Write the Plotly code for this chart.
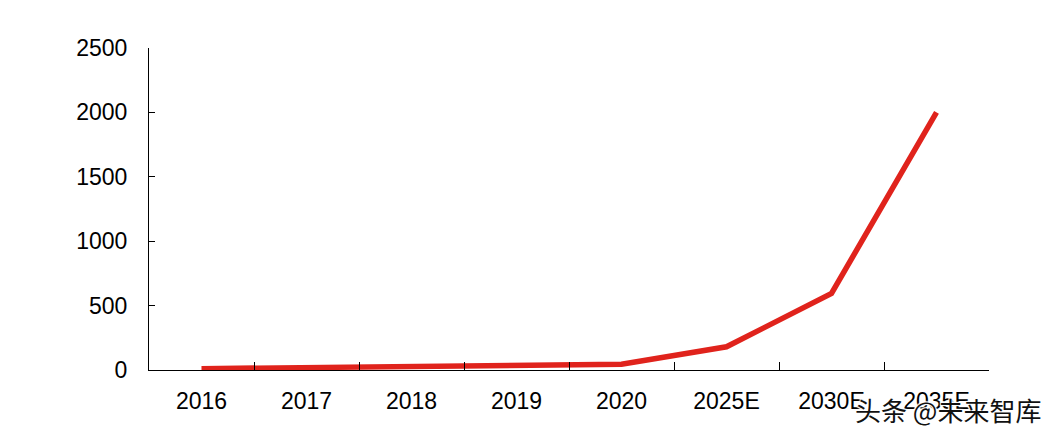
import plotly.graph_objects as go

categories = ["2016", "2017", "2018", "2019", "2020", "2025E", "2030E", "2035E"]
values = [10, 20, 30, 35, 45, 180, 595, 2000]
y_ticks = [0, 500, 1000, 1500, 2000, 2500]

fig = go.Figure()
fig.add_trace(go.Scatter(
    x=categories, y=values, mode="lines",
    line=dict(color="#e0231c", width=5.5),
    hoverinfo="skip", showlegend=False,
))

font = dict(family="Liberation Sans, Arial, sans-serif", size=23, color="#000000")

fig.update_layout(
    width=1061, height=437,
    margin=dict(l=141, r=80, t=40, b=75),
    paper_bgcolor="white", plot_bgcolor="white",
    font=font,
    xaxis=dict(
        type="category", tickson="boundaries", ticks="inside", ticklen=8,
        tickcolor="#000", tickwidth=1, showline=True, linecolor="#000", linewidth=1,
        showgrid=False, zeroline=False, tickfont=font, range=[-0.5, 7.5],
        ticklabelstandoff=10,
    ),
    yaxis=dict(
        range=[0, 2500], tickvals=y_ticks, ticks="inside", ticklen=6,
        tickcolor="#000", tickwidth=1, showline=True, linecolor="#000", linewidth=1,
        showgrid=False, zeroline=False, tickfont=font, ticklabelstandoff=16,
    ),
)

fig.add_annotation(
    text="头条 @未来智库", xref="paper", yref="paper", x=0.838, y=-0.124,
    xanchor="left", yanchor="middle", showarrow=False,
    font=dict(family="Noto Sans CJK SC", size=26, color="#111111",
              shadow="1px 1px 1px white, -1px -1px 1px white, 1px -1px 1px white, -1px 1px 1px white"),
)

fig.write_html("out.html")
